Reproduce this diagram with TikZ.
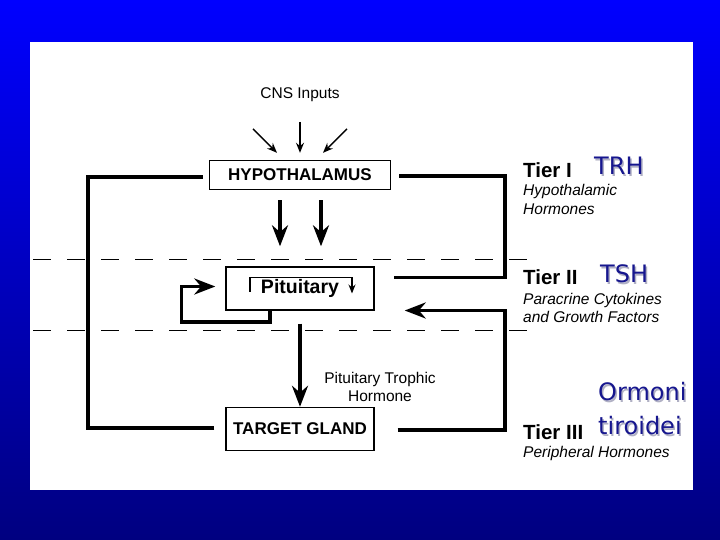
\documentclass[tikz,border=0pt]{standalone}
\usepackage{fontspec}
\setmainfont{Liberation Sans}
\newfontfamily\notefont{DejaVu Sans}
\usepackage{xcolor}
\usetikzlibrary{arrows.meta,calc}
\definecolor{slidetop}{HTML}{0000FF}
\definecolor{slidebot}{HTML}{000080}
\definecolor{note}{HTML}{16168E}
\definecolor{shade}{HTML}{B0B0C4}

\begin{document}
\begin{tikzpicture}[x=1pt,y=-1pt,>=Stealth,
  box/.style={draw,line width=1.4pt,minimum width=148pt,minimum height=43pt,inner sep=0pt,font=\bfseries\fontsize{17}{18}\selectfont},
  fat/.style={line width=3.6pt},
  fathead/.style={fat,-{Stealth[length=21pt,width=16pt]}},
  thin/.style={line width=1.4pt,-{Stealth[length=10pt,width=8pt]}},
  tier/.style={anchor=west,inner sep=0pt,font=\bfseries\fontsize{20.5}{22}\selectfont},
  sub/.style={anchor=west,align=left,inner sep=0pt,font=\itshape\fontsize{15.5}{18.5}\selectfont},
  sep/.style={line width=1pt,dash pattern=on 18pt off 16pt},
  blue note/.style={anchor=west,inner sep=0pt,text=note,font=\notefont\fontsize{24}{26}\selectfont}]
 \useasboundingbox (0,0) rectangle (720,540);
 \shade[top color=slidetop,bottom color=slidebot] (0,0) rectangle (720,540);
 \fill[white] (30,42) rectangle (693,490);
 % tier boundaries
 \draw[sep] (33,259)--(535,259);
 \draw[sep] (33,330)--(535,330);
 % glands
 \node (cns) at (300,95) {\fontsize{15.5}{17}\selectfont CNS Inputs};
 \node[box,minimum width=181pt,minimum height=29pt] (hyp) at (300,175) {HYPOTHALAMUS};
 \node[box,font=\bfseries\fontsize{19.5}{21}\selectfont] (pit) at (300,288.5) {Pituitary};
 \node[box] (tgt) at (300,429) {TARGET GLAND};
 \node[align=center,font=\fontsize{15.5}{18.5}\selectfont] (pth) at (380,387) {Pituitary Trophic\\Hormone};
 % inputs
 \draw[thin] ($(hyp.north)+(0,-38)$)--($(hyp.north)+(0,-7)$);
 \draw[thin] ($(hyp.north)+(-47,-31)$)--($(hyp.north)+(-23,-7)$);
 \draw[thin] ($(hyp.north)+(47,-31)$)--($(hyp.north)+(23,-7)$);
 \foreach \dx in {-20,21}
  \draw[fathead] ($(hyp.south)+(\dx,10)$)--($(pit.north)+(\dx,-20)$);
 \draw[fathead] ($(pit.south)+(0,13)$)--(tgt.north);
 % paracrine loop
 \draw[line width=1.4pt,-{Stealth[length=9pt,width=7pt]}] ($(pit.center)+(-50,3)$)|-($(pit.center)+(52,-11)$)--++(0,16);
 \draw[fat,-{Stealth[length=21pt,width=16pt]}] ($(pit.south)+(-30,0)$)--++(0,11)-|($(pit.west)+(-44,-2)$)--($(pit.west)+(-10,-2)$);
 % feedback loops
 \draw[fat] ($(hyp.east)+(8,1)$)-|($(pit.east)+(130,-11)$)--($(pit.east)+(19,-11)$);
 \draw[fat,-{Stealth[length=21pt,width=16pt]}] ($(tgt.east)+(23,1)$)-|($(pit.east)+(130,22)$)--($(pit.east)+(30,22)$);
 \draw[fat] ($(tgt.west)+(-11,-1)$)-|($(hyp.west)+(-121,2)$)--($(hyp.west)+(-6,2)$);
 % tiers
 \node[tier] (t1) at (523,170) {Tier I};
 \node[sub] (t1s) at (523,199.5) {Hypothalamic\\Hormones};
 \node[tier] (t2) at (523,277) {Tier II};
 \node[sub] (t2s) at (523,308) {Paracrine Cytokines\\and Growth Factors};
 \node[tier] (t3) at (523,432) {Tier III};
 \node[sub] (t3s) at (523,453) {Peripheral Hormones};
 % hand-written notes
 \foreach \nm/\px/\py/\txt in {trh/594/166/TRH,tsh/600/274/TSH,orm/598/392/Ormoni,tir/598/426/tiroidei}{
  \node[blue note,text=shade] at (\px+1.5,\py+1.5) {\txt};
  \node[blue note] (\nm) at (\px,\py) {\txt};
 }
\end{tikzpicture}
\end{document}
